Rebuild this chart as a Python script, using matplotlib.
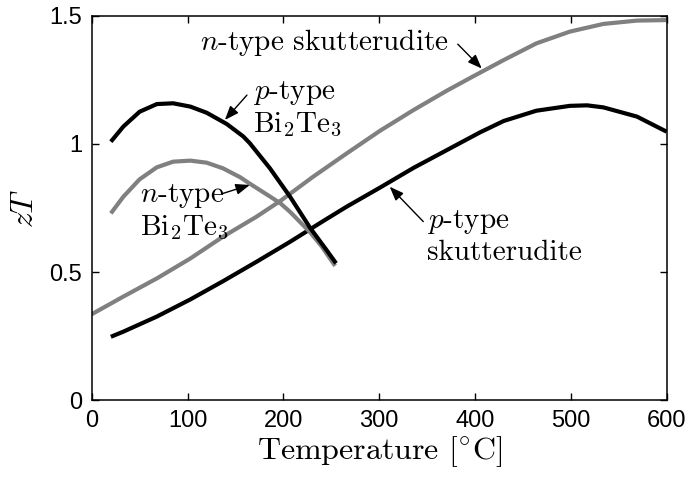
import matplotlib
matplotlib.use("Agg")
import matplotlib.pyplot as plt

plt.rcParams['mathtext.fontset'] = 'cm'
plt.rcParams['axes.formatter.use_mathtext'] = True

# curves (temperature in degC, zT)
T_p_bite = [20, 33, 50, 68, 85, 103, 120, 141, 158, 165, 186, 207, 228, 245, 255]
zT_p_bite = [1.009, 1.068, 1.126, 1.156, 1.159, 1.146, 1.122, 1.078, 1.03, 1.003,
             0.905, 0.794, 0.672, 0.586, 0.534]

T_n_bite = [20, 33, 50, 68, 85, 103, 120, 137, 155, 165, 186, 197, 207, 228, 240, 254]
zT_n_bite = [0.729, 0.794, 0.862, 0.909, 0.931, 0.935, 0.927, 0.905, 0.87, 0.845,
             0.795, 0.768, 0.735, 0.655, 0.6, 0.524]

T_p_skut = [20, 33, 68, 103, 137, 172, 207, 242, 266, 301, 336, 370, 405, 430,
            464, 499, 517, 534, 569, 600]
zT_p_skut = [0.247, 0.267, 0.326, 0.393, 0.464, 0.54, 0.618, 0.700, 0.755, 0.830,
             0.907, 0.975, 1.045, 1.09, 1.13, 1.149, 1.151, 1.143, 1.107, 1.048]

T_n_skut = [0, 33, 68, 103, 137, 172, 197, 231, 266, 301, 336, 370, 395, 430,
            464, 499, 534, 569, 600]
zT_n_skut = [0.335, 0.404, 0.475, 0.553, 0.638, 0.716, 0.778, 0.872, 0.963, 1.052,
             1.133, 1.207, 1.258, 1.328, 1.393, 1.439, 1.469, 1.482, 1.484]

x_ticks = [0, 100, 200, 300, 400, 500, 600]
y_ticks = [0, 0.5, 1, 1.5]
y_ticklabels = ['0', '0.5', '1', '1.5']

gray = '#808080'

fig = plt.figure(figsize=(6.91, 4.83), dpi=100)
ax = fig.add_axes([0.1327, 0.1718, 0.8321, 0.7951])

line_kw = dict(lw=3, solid_capstyle='butt', solid_joinstyle='round')
ax.plot(T_n_skut, zT_n_skut, color=gray, **line_kw)
ax.plot(T_p_skut, zT_p_skut, color='black', **line_kw)
ax.plot(T_n_bite, zT_n_bite, color=gray, **line_kw)
ax.plot(T_p_bite, zT_p_bite, color='black', **line_kw)

ax.set_xlim(0, 600)
ax.set_ylim(0, 1.5)
ax.set_xticks(x_ticks)
ax.set_xticklabels([str(t) for t in x_ticks])
ax.set_yticks(y_ticks)
ax.set_yticklabels(y_ticklabels)
ax.tick_params(direction='in', length=5, width=1, top=True, right=True,
               labelsize=17, pad=7)
for lab in ax.get_xticklabels() + ax.get_yticklabels():
    lab.set_fontfamily('Liberation Sans')
for sp in ax.spines.values():
    sp.set_linewidth(1.1)

ax.set_xlabel('Temperature [$^{\\circ}$C]', fontfamily='cmr10', fontsize=23, labelpad=2)
ax.set_ylabel('$zT$', fontsize=23, labelpad=7)

arw = dict(arrowstyle='-|>,head_length=0.85,head_width=0.33', color='black',
           lw=1, shrinkA=0, shrinkB=0)
tfs = 21

# labels with arrows
ax.text(113, 1.395, '$n$-type skutterudite', fontfamily='cmr10', fontsize=tfs,
        va='center', ha='left')
ax.annotate('', xy=(407, 1.295), xytext=(382, 1.39), arrowprops=arw)

ax.text(168, 1.137, '$p$-type\nBi$_2$Te$_3$', fontfamily='cmr10', fontsize=tfs,
        va='center', ha='left', linespacing=1.15)
ax.annotate('', xy=(139, 1.094), xytext=(162, 1.191), arrowprops=arw)

ax.text(50, 0.734, '$n$-type\nBi$_2$Te$_3$', fontfamily='cmr10', fontsize=tfs,
        va='center', ha='left', linespacing=1.15)
ax.annotate('', xy=(165, 0.84), xytext=(137, 0.807), arrowprops=arw)

ax.text(350, 0.637, '$p$-type\nskutterudite', fontfamily='cmr10', fontsize=tfs,
        va='center', ha='left', linespacing=1.15)
ax.annotate('', xy=(311, 0.833), xytext=(346, 0.697), arrowprops=arw)

fig.savefig('out.png', dpi=100)
